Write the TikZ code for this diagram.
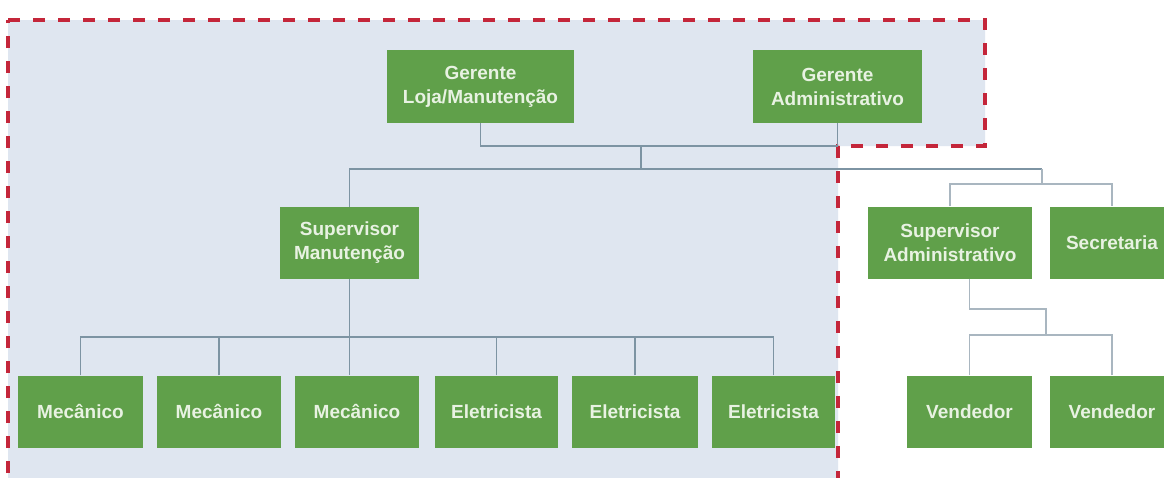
\documentclass[tikz,border=0pt]{standalone}
\usepackage{fontspec}
\setmainfont{Liberation Sans}
\definecolor{boxgreen}{HTML}{60A04A}
\definecolor{boxtext}{HTML}{E8F2E2}
\definecolor{regionfill}{HTML}{DFE6F0}
\definecolor{regionline}{HTML}{C4263A}
\definecolor{connline}{HTML}{7D94A3}
\definecolor{connlight}{HTML}{A9B6C0}
\begin{document}
\begin{tikzpicture}[x=1pt,y=-1pt,
  box/.style={rectangle, fill=boxgreen, text=boxtext, align=center, inner sep=0pt,
    font=\fontsize{19}{24}\selectfont\bfseries, minimum height=72pt},
  conn/.style={draw=connline, line width=1.4pt},
  connl/.style={draw=connlight, line width=1.3pt},
  region/.style={fill=regionfill, draw=regionline, line width=3.4pt, dash pattern=on 12pt off 13pt}]
\useasboundingbox (0,0) rectangle (1164,477);
\fill[white] (0,0) rectangle (1164,477);
% dashed region
\path[region] (8,20) -- (985,20) -- (985,146) -- (838,146) -- (838,482) -- (8,482) -- cycle;

% nodes
\node[box, minimum width=187pt, minimum height=73pt] (gl) at (480.5,86.5) {Gerente\\Loja/Manutenção};
\node[box, minimum width=169pt, minimum height=73pt] (ga) at (837.5,86.5) {Gerente\\Administrativo};
\node[box, minimum width=139pt] (sm) at (349.5,243) {Supervisor\\Manutenção};
\node[box, minimum width=164pt] (sa) at (950,242.5) {Supervisor\\Administrativo};
\node[box, minimum width=124pt] (sec) at (1112,242.5) {Secretaria};
\node[box, minimum width=125pt] (m1) at (80.5,411.5) {Mecânico};
\node[box, minimum width=124pt] (m2) at (219,411.5) {Mecânico};
\node[box, minimum width=124pt] (m3) at (357,411.5) {Mecânico};
\node[box, minimum width=123pt] (e1) at (496.5,411.5) {Eletricista};
\node[box, minimum width=126pt] (e2) at (635,411.5) {Eletricista};
\node[box, minimum width=123pt] (e3) at (773.5,411.5) {Eletricista};
\node[box, minimum width=125pt] (v1) at (969.5,411.5) {Vendedor};
\node[box, minimum width=124pt] (v2) at (1112,411.5) {Vendedor};

% junctions
\coordinate (j1) at (641,146);
\coordinate (j2) at (641,169);
\coordinate (j3) at (1042,169);
\coordinate (j4) at (1042,184);
\coordinate (b) at (349.5,337);
\coordinate (k2) at (1046,309);
\coordinate (k3) at (1046,335);

% connectors
\draw[conn] (gl.south) |- (j1) -| (ga.south);
\draw[conn] (j1) -- (j2);
\draw[conn] (sm.north) |- (j2) -- (j3);
\draw[connl] (j3) -- (j4);
\draw[connl] (sa.north) |- (j4) -| (sec.north);
\draw[conn] (sm.south) -- (b);
\draw[conn] (b) -- (b |- m3.north);
\foreach \n in {m1,m2,e1,e2,e3} \draw[conn] (\n.north) |- (b);
\draw[connl] (sa.south -| v1.north) |- (k2) -- (k3);
\draw[connl] (v1.north) |- (k3);
\draw[connl] (v2.north) |- (k3);
\end{tikzpicture}
\end{document}
